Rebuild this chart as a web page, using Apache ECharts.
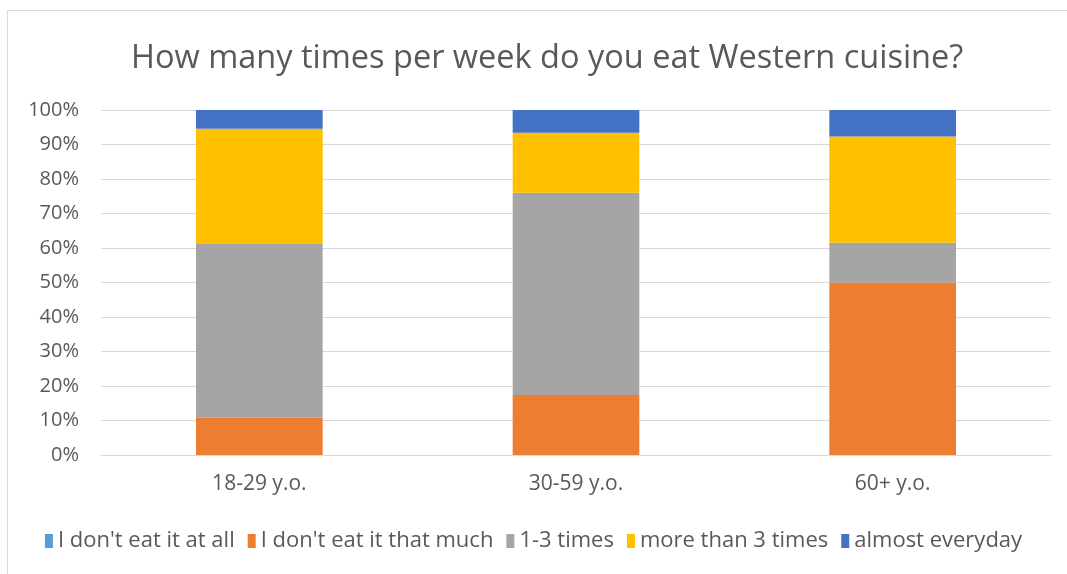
<!DOCTYPE html>
<html>
<head>
<meta charset="utf-8">
<script src="https://cdn.jsdelivr.net/npm/echarts@6/dist/echarts.min.js"></script>
<style>
html,body{margin:0;padding:0;background:#fff;}
#frame{position:absolute;left:7px;top:10px;width:1080px;height:580px;border:1px solid #d9d9d9;box-sizing:border-box;}
#chart{position:absolute;left:0;top:0;width:1067px;height:574px;}
</style>
</head>
<body>
<div id="frame"></div>
<div id="chart"></div>
<script>
const categories = ['18-29 y.o.', '30-59 y.o.', '60+ y.o.'];
const seriesNames = ["I don't eat it at all", "I don't eat it that much", '1-3 times', 'more than 3 times', 'almost everyday'];
const notAtAll = [0, 0, 0];
const notMuch = [10.8, 17.4, 50.0];
const oneToThree = [50.6, 58.6, 11.5];
const moreThanThree = [33.2, 17.4, 30.8];
const almostEveryday = [5.4, 6.6, 7.7];
const colors = ['#5B9BD5', '#ED7D31', '#A5A5A5', '#FFC000', '#4472C4'];
const seriesData = [notAtAll, notMuch, oneToThree, moreThanThree, almostEveryday];

const chart = echarts.init(document.getElementById('chart'));
chart.setOption({
  animation: false,
  title: {
    text: 'How many times per week do you eat Western cuisine?',
    left: 126, top: 37,
    textStyle: {fontFamily: 'Open Sans', fontWeight: 'normal', fontSize: 32.5, color: '#595959'}
  },
  legend: {
    top: 525, left: 'center',
    itemWidth: 8, itemHeight: 14, itemGap: 13,
    icon: 'rect',
    textStyle: {fontFamily: 'Open Sans', fontSize: 22, color: '#595959'},
    data: seriesNames
  },
  grid: {left: 101, right: 16, top: 110, bottom: 119},
  xAxis: {
    type: 'category', data: categories,
    axisLine: {lineStyle: {color: '#d9d9d9'}},
    axisTick: {show: false},
    axisLabel: {fontFamily: 'Open Sans', fontSize: 21, color: '#595959', margin: 19}
  },
  yAxis: {
    type: 'value', min: 0, max: 100, interval: 10,
    axisLabel: {formatter: '{value}%', fontFamily: 'Open Sans', fontSize: 20, color: '#595959', margin: 22},
    splitLine: {lineStyle: {color: '#d9d9d9'}},
    axisLine: {show: false}, axisTick: {show: false}
  },
  series: seriesNames.map((n, i) => ({
    name: n, type: 'bar', stack: 'total', data: seriesData[i],
    barWidth: '40%',
    itemStyle: {color: colors[i]}
  }))
});
</script>
</body>
</html>
